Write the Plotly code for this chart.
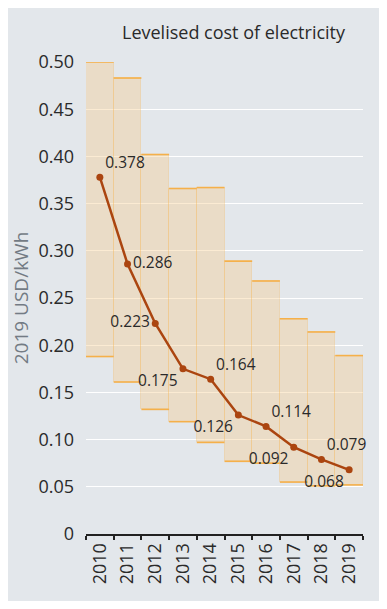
import plotly.graph_objects as go

years = ["2010", "2011", "2012", "2013", "2014", "2015", "2016", "2017", "2018", "2019"]
lcoe = [0.378, 0.286, 0.223, 0.175, 0.164, 0.126, 0.114, 0.092, 0.079, 0.068]
band_high = [0.500, 0.483, 0.402, 0.366, 0.367, 0.289, 0.268, 0.228, 0.214, 0.189]
band_low = [0.188, 0.161, 0.132, 0.119, 0.097, 0.077, 0.075, 0.055, 0.051, 0.052]
label_pos = ["top right", "middle right", "middle left", "bottom left", "top right",
             "bottom left", "top right", "bottom left", "top right", "bottom left"]
y_ticks = [0, 0.05, 0.10, 0.15, 0.20, 0.25, 0.30, 0.35, 0.40, 0.45, 0.50]
y_ticktext = ["0", "0.05", "0.10", "0.15", "0.20", "0.25", "0.30", "0.35", "0.40", "0.45", "0.50"]

FONT = "Open Sans"
idx = list(range(len(years)))

fig = go.Figure()

# shaded range band
fig.add_trace(go.Bar(
    x=idx, y=[h - l for h, l in zip(band_high, band_low)], base=band_low,
    width=1, marker=dict(color="rgba(245,205,145,0.4)",
                         line=dict(color="rgba(247,178,74,0.25)", width=1)),
    hoverinfo="skip", showlegend=False))

# top / bottom edges of band
for vals in (band_high, band_low):
    xs, ys = [], []
    for i, v in zip(idx, vals):
        xs += [i - 0.5, i + 0.5, None]
        ys += [v, v, None]
    fig.add_trace(go.Scatter(x=xs, y=ys, mode="lines",
                             line=dict(color="#f5b04a", width=1.6),
                             hoverinfo="skip", showlegend=False))

fig.add_trace(go.Scatter(
    x=idx, y=lcoe, mode="lines+markers+text",
    line=dict(color="#ab4510", width=2.5),
    marker=dict(color="#ab4510", size=7),
    text=[f"{v:.3f}" for v in lcoe], textposition=label_pos,
    textfont=dict(family=FONT, size=15.5, color="#2a2a2a"),
    showlegend=False, cliponaxis=False))

fig.update_layout(
    width=379, height=593,
    margin=dict(l=78, r=24, t=54, b=67),
    paper_bgcolor="#e3e7eb", plot_bgcolor="#e3e7eb",
    bargap=0,
    font=dict(family=FONT, color="#2a2a2a"),
    annotations=[dict(text="Levelised cost of electricity", xref="paper", yref="paper",
                      x=1.0, y=1.0, xanchor="right", yanchor="bottom", yshift=16, xshift=-15,
                      showarrow=False, font=dict(family=FONT, size=18, color="#2a2a2a"))],
)
fig.update_xaxes(range=[-0.5, 9.5], tickvals=idx, ticktext=years, tickangle=-90,
                 ticks="", showgrid=False, zeroline=False, automargin=False,
                 showline=True, linecolor="#222222", linewidth=2,
                 tickfont=dict(family=FONT, size=18, color="#2a2a2a"),
                 minor=dict(tick0=-0.5, dtick=1, ticks="outside", ticklen=4,
                            tickcolor="#222222", tickwidth=2, showgrid=False))
fig.update_yaxes(range=[0, 0.5], tickvals=y_ticks, ticktext=y_ticktext,
                 showgrid=True, gridcolor="#ffffff", gridwidth=1, zeroline=False,
                 ticklabelstandoff=11, automargin=False,
                 tickfont=dict(family=FONT, size=18, color="#2a2a2a"),
                 title=dict(text="2019 USD/kWh", font=dict(family=FONT, size=19, color="#737b84"),
                            standoff=14))

fig.write_html("out.html")
